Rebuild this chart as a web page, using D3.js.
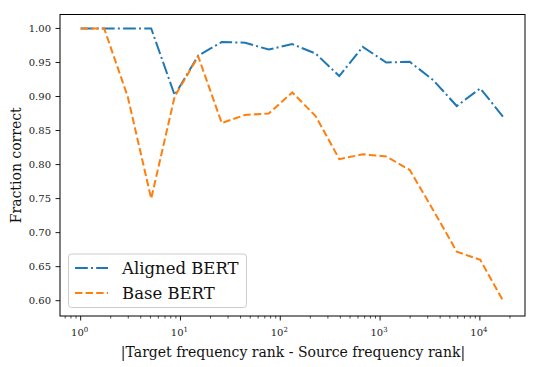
<!DOCTYPE html>
<html><head><meta charset="utf-8">
<script src="https://cdn.jsdelivr.net/npm/d3@7"></script>
<style>body{margin:0;background:#fff}text{font-family:"DejaVu Serif",serif}</style>
</head><body><svg id="c" width="540" height="367"></svg>
<script>
const rankDiff = [1, 1.72, 2.96, 5.09, 8.75, 15.05, 25.9, 44.5, 76.6, 131.8, 226.7, 390, 670, 1153, 1983, 3411, 5867, 10091, 17357];
const alignedBert = [1.00, 1.00, 1.00, 1.00, 0.902, 0.960, 0.980, 0.979, 0.969, 0.977, 0.963, 0.930, 0.973, 0.950, 0.951, 0.924, 0.886, 0.912, 0.869];
const baseBert = [1.00, 1.00, 0.900, 0.750, 0.900, 0.959, 0.861, 0.873, 0.875, 0.906, 0.871, 0.808, 0.815, 0.812, 0.792, 0.733, 0.672, 0.660, 0.598];
const yTicks = [0.60, 0.65, 0.70, 0.75, 0.80, 0.85, 0.90, 0.95, 1.00];
const xTickExps = [0, 1, 2, 3, 4];
const seriesNames = ["Aligned BERT", "Base BERT"];

const L = 60, R = 525, T = 14.5, B = 316;
const svg = d3.select("#c");
const x = d3.scaleLog().domain([Math.pow(10, -0.207), Math.pow(10, 4.452)]).range([L, R]);
const y = d3.scaleLinear().domain([0.5775, 1.0205]).range([B, T]);

// minor ticks
const minor = [];
for (let e = -1; e <= 4; e++) for (let m = 2; m <= 9; m++) { const v = m * Math.pow(10, e); if (v >= x.domain()[0] && v <= x.domain()[1]) minor.push(v); }
svg.append("g").selectAll("line").data(minor).join("line")
  .attr("x1", d => x(d)).attr("x2", d => x(d)).attr("y1", B).attr("y2", B + 2.5)
  .attr("stroke", "#000").attr("stroke-width", 0.7);

const xAxis = svg.append("g").attr("transform", `translate(0,${B})`);
const majors = xTickExps.map(e => Math.pow(10, e));
xAxis.selectAll("line").data(majors).join("line")
  .attr("x1", d => x(d)).attr("x2", d => x(d)).attr("y1", 0).attr("y2", 4.5)
  .attr("stroke", "#000").attr("stroke-width", 0.9);
const xt = xAxis.selectAll("text").data(xTickExps).join("text")
  .attr("x", d => x(Math.pow(10, d)) - 1).attr("y", 20)
  .attr("text-anchor", "middle").attr("font-size", 10).attr("fill", "#222");
xt.append("tspan").text("10");
xt.append("tspan").attr("dy", -4.5).attr("font-size", 7).text(d => d);

const yAxis = svg.append("g");
yAxis.selectAll("line").data(yTicks).join("line")
  .attr("x1", L - 4.5).attr("x2", L).attr("y1", d => y(d)).attr("y2", d => y(d))
  .attr("stroke", "#000").attr("stroke-width", 0.9);
yAxis.selectAll("text").data(yTicks).join("text")
  .attr("x", L - 9).attr("y", d => y(d) + 3.5)
  .attr("text-anchor", "end").attr("font-size", 10).attr("fill", "#222")
  .text(d => d.toFixed(2));

const line = d3.line().x(d => x(d[0])).y(d => y(d[1]));
const pa = rankDiff.map((v, i) => [v, alignedBert[i]]);
const pb = rankDiff.map((v, i) => [v, baseBert[i]]);
svg.append("path").attr("d", line(pa)).attr("fill", "none").attr("stroke", "#1f77b4")
  .attr("stroke-width", 2).attr("stroke-dasharray", "12.8,3.2,2,3.2");
svg.append("path").attr("d", line(pb)).attr("fill", "none").attr("stroke", "#ff7f0e")
  .attr("stroke-width", 2).attr("stroke-dasharray", "7.4,3.2");

svg.append("rect").attr("x", L).attr("y", T).attr("width", R - L).attr("height", B - T)
  .attr("fill", "none").attr("stroke", "#000").attr("stroke-width", 1);

// legend
const lg = svg.append("g");
lg.append("rect").attr("x", 68.5).attr("y", 254).attr("width", 178).attr("height", 53.5)
  .attr("rx", 3).attr("fill", "#fff").attr("fill-opacity", 0.8).attr("stroke", "#ccc").attr("stroke-width", 1);
const colors = ["#1f77b4", "#ff7f0e"], dashes = ["12.8,3.2,2,3.2", "7.4,3.2"];
seriesNames.forEach((n, i) => {
  const cy = 268 + i * 25;
  lg.append("line").attr("x1", 75).attr("x2", 108).attr("y1", cy).attr("y2", cy)
    .attr("stroke", colors[i]).attr("stroke-width", 2).attr("stroke-dasharray", dashes[i]);
  lg.append("text").attr("x", 122).attr("y", cy + 6).attr("font-size", 16.5).attr("fill", "#111").text(n);
});

svg.append("text").attr("x", 293).attr("y", 357).attr("text-anchor", "middle")
  .attr("font-size", 14).attr("fill", "#111").text("|Target frequency rank - Source frequency rank|");
svg.append("text").attr("transform", `translate(21,${(T + B) / 2}) rotate(-90)`).attr("text-anchor", "middle")
  .attr("font-size", 14).attr("fill", "#111").text("Fraction correct");
</script></body></html>
